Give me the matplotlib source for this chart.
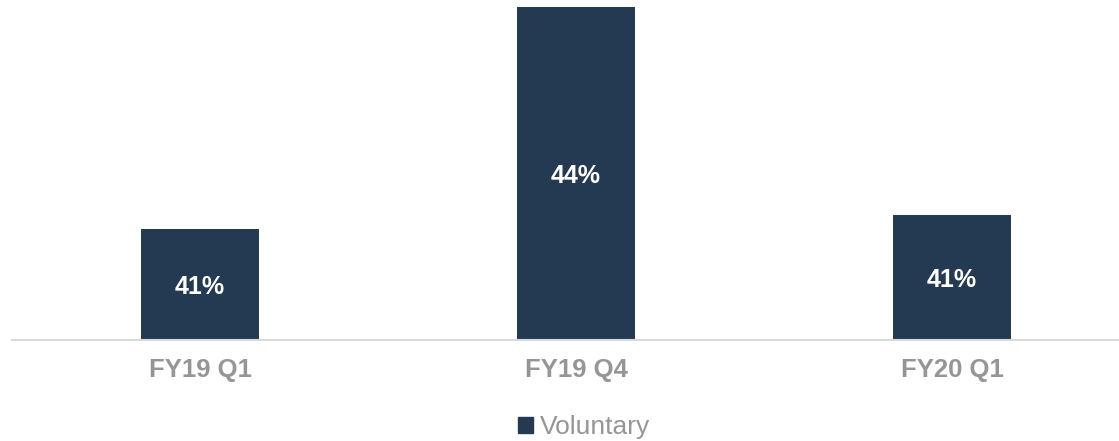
import matplotlib
matplotlib.use("Agg")
import matplotlib.pyplot as plt
from matplotlib.patches import Patch

categories = ["FY19 Q1", "FY19 Q4", "FY20 Q1"]
values = [41.2, 43.6, 41.35]
labels = ["41%", "44%", "41%"]
series_name = "Voluntary"

plt.rcParams['font.family'] = ['Liberation Sans', 'DejaVu Sans']
W, H = 1119, 441
fig = plt.figure(figsize=(W/100, H/100), dpi=100)
ax = fig.add_axes([12/W, 1-340/H, 1-12/W, (340-7)/H])
bar_color = "#243a52"
xs = range(len(categories))
bars = ax.bar(xs, values, width=0.314, color=bar_color, bottom=0)
ax.set_ylim(40, 43.6)
ax.set_xlim(-0.5, 2.444)
for x, v, lab in zip(xs, values, labels):
    ax.text(x, (40+v)/2, lab, ha='center', va='center_baseline', color='white',
            fontsize=18, fontweight='bold')
for s in ['top', 'right', 'left']:
    ax.spines[s].set_visible(False)
ax.spines['bottom'].set_color('#d9d9d9')
ax.spines['bottom'].set_linewidth(1.5)
ax.set_yticks([])
ax.set_xticks(list(xs))
ax.set_xticklabels(categories, fontsize=18.5, fontweight='bold', color='#969696')
ax.tick_params(axis='x', length=0, pad=13)
leg = fig.legend(handles=[Patch(color=bar_color, label=series_name)],
                 loc='center', bbox_to_anchor=(0.522, 1-427/H), frameon=False,
                 fontsize=19, handlelength=0.55, handleheight=0.55, handletextpad=0.25)
for t in leg.get_texts():
    t.set_color('#969696')
fig.savefig("out.png", dpi=100)
